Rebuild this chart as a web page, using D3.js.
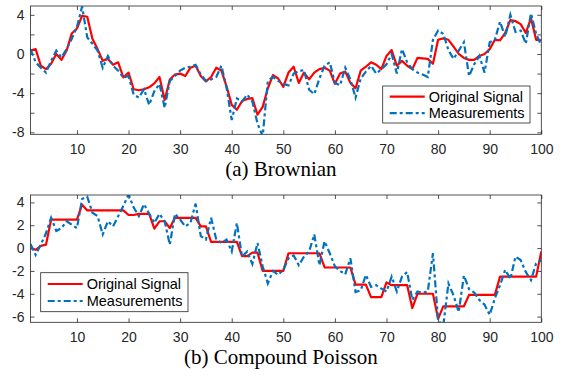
<!DOCTYPE html>
<html><head><meta charset="utf-8">
<script src="https://cdn.jsdelivr.net/npm/d3@7"></script>
<style>
body{margin:0;background:#fff;}
svg{display:block;}
.tick text{font-family:"Liberation Sans",Arial,Helvetica,sans-serif;font-size:14px;fill:#262626;}
</style></head>
<body>
<svg id="chart" width="569" height="382"></svg>
<script>
const xIndex = d3.range(1, 101);
const xTicks = [10,20,30,40,50,60,70,80,90,100];

const brownianOriginal = [0.35,0.5,-1.2,-1.55,-1.0,0.0,-0.6,0.35,2.1,2.6,
3.9,3.8,1.55,0.5,-0.7,-0.5,-1.1,-0.85,-2.4,-1.9,
-3.6,-3.7,-3.6,-3.4,-3.0,-2.35,-4.7,-2.6,-2.1,-2.0,
-2.25,-1.4,-1.2,-2.25,-2.8,-2.35,-1.4,-1.7,-3.3,-5.2,
-5.7,-4.8,-4.6,-4.5,-6.2,-5.4,-3.5,-2.15,-2.5,-3.35,
-1.9,-1.3,-2.95,-1.9,-2.6,-1.9,-1.55,-1.4,-1.7,-3.05,
-2.0,-1.8,-2.95,-3.5,-1.7,-1.3,-0.85,-1.1,-1.55,-0.2,
0.4,-1.2,-0.7,-1.2,-1.55,-0.4,-0.45,-0.5,-1.0,1.45,
1.6,1.45,0.75,0.0,-0.4,-0.6,-0.6,-0.2,0.0,0.5,
1.45,1.4,2.15,3.45,3.35,3.05,2.15,3.65,1.45,1.4];

const brownianMeasured = [0.5,-0.85,-1.4,-1.9,-0.7,0.35,-0.35,0.5,1.55,2.75,
4.85,1.7,1.05,0.35,-1.4,-0.2,-1.2,-1.7,-2.4,-2.25,
-4.15,-4.45,-3.6,-5.2,-3.8,-3.05,-5.5,-2.75,-2.25,-1.7,
-1.4,-1.3,-1.1,-2.1,-2.75,-2.6,-2.35,-1.2,-3.45,-6.75,
-4.55,-4.85,-4.15,-4.85,-7.1,-8.4,-2.75,-2.35,-2.75,-3.05,
-3.2,-2.0,-1.75,-1.65,-3.65,-4.1,-2.5,-1.2,-0.85,-2.95,
-3.2,-1.4,-2.6,-4.45,-2.5,-1.8,-1.2,-2.0,-1.55,-1.05,
0.0,-2.0,0.5,-0.85,-1.55,-1.9,-2.1,-2.35,1.45,2.4,
2.05,0.4,-0.5,0.35,1.2,-2.25,-1.05,-0.2,-1.9,1.2,
1.45,3.3,1.75,4.0,2.25,2.4,1.05,4.15,2.05,0.85];

const poissonOriginal = [0.0,-0.15,0.2,0.3,2.5,2.5,2.5,2.5,2.5,2.5,
3.8,3.3,3.3,3.3,3.3,3.3,3.3,3.3,3.3,2.9,
2.9,3.0,3.0,3.0,1.7,2.35,2.35,1.75,2.65,2.65,
2.65,2.65,2.65,1.9,1.9,0.55,0.55,0.55,0.55,0.55,
0.55,-0.7,-0.7,-0.4,-0.4,-2.0,-2.0,-2.0,-2.0,-2.0,
-0.45,-0.45,-0.45,-0.45,-0.45,-0.45,-0.45,-1.7,-1.7,-1.7,
-1.7,-1.7,-1.7,-3.2,-3.2,-3.2,-4.3,-4.3,-4.3,-3.0,
-3.25,-3.25,-3.25,-3.25,-5.25,-4.0,-4.0,-4.0,-4.0,-6.2,
-5.1,-5.1,-5.1,-5.1,-5.1,-4.1,-4.1,-4.1,-4.1,-4.1,
-4.1,-2.5,-2.5,-2.5,-2.5,-2.5,-2.5,-2.5,-2.5,-0.3];

const poissonMeasured = [0.35,-0.6,0.3,1.3,2.65,1.5,1.75,2.35,2.05,1.75,
4.3,4.5,3.1,2.8,1.2,2.35,1.9,2.8,3.7,4.7,
3.55,2.8,3.85,3.0,2.2,3.0,2.35,0.3,3.0,2.5,
1.9,2.2,3.9,1.05,0.75,2.65,0.75,0.45,0.75,-0.3,
2.2,-0.75,-0.3,-1.4,0.45,-1.6,-3.1,-2.0,-2.35,-1.9,
-0.9,-0.65,-1.5,-0.75,-0.3,1.2,-1.5,0.6,-0.45,-1.6,
-2.0,-2.3,-0.9,-3.85,-3.7,-2.35,-3.4,-3.25,-3.55,-3.8,
-2.5,-3.8,-2.5,-2.1,-4.55,-3.8,-3.9,-3.8,-0.45,-6.35,
-6.8,-3.1,-4.15,-5.6,-2.4,-3.6,-3.9,-4.55,-4.95,-5.85,
-4.4,-3.25,-1.9,-2.7,-0.75,-1.05,-2.1,-2.8,-1.35,-1.05];

const brownianYTicks = [-8,-6,-4,-2,0,2,4];
const brownianYLabels = [-8,-4,0,4];
const poissonYTicks = [-6,-4,-2,0,2,4];
const seriesNames = ["Original Signal","Measurements"];
const captions = ["(a) Brownian","(b) Compound Poisson"];

const AX = "#262626";
const RED = "#ff0000";
const BLUE = "#0072bd";
const svg = d3.select("#chart");

function panel(cfg){
  const {left,right,top,bottom,yDomain,yTicks,yLabels,orig,meas,legend,caption,captionY,id} = cfg;
  const x = d3.scaleLinear().domain([1,100]).range([left,right]);
  const y = d3.scaleLinear().domain(yDomain).range([bottom,top]);
  const g = svg.append("g");
  g.append("rect").attr("x",left).attr("y",top).attr("width",right-left).attr("height",bottom-top).attr("fill","#fff");
  svg.append("clipPath").attr("id",id).append("rect").attr("x",left).attr("y",top).attr("width",right-left).attr("height",bottom-top);

  const fmt = v => yLabels.includes(v) ? String(v) : "";
  const ax = [
    g.append("g").attr("transform",`translate(0,${bottom})`).call(d3.axisBottom(x).tickValues(xTicks).tickSize(-4).tickSizeOuter(0).tickPadding(10)),
    g.append("g").attr("transform",`translate(0,${top})`).call(d3.axisTop(x).tickValues(xTicks).tickSize(-4).tickSizeOuter(0).tickFormat("")),
    g.append("g").attr("transform",`translate(${left},0)`).call(d3.axisLeft(y).tickValues(yTicks).tickSize(-4).tickSizeOuter(0).tickPadding(6).tickFormat(fmt)),
    g.append("g").attr("transform",`translate(${right},0)`).call(d3.axisRight(y).tickValues(yTicks).tickSize(-4).tickSizeOuter(0).tickFormat(""))
  ];
  ax.forEach(a=>{a.select(".domain").remove(); a.selectAll("line").attr("stroke",AX).attr("stroke-width",0.8);});

  const line = d3.line().x((d,i)=>x(xIndex[i])).y(d=>y(d));
  const lg = g.append("g").attr("clip-path",`url(#${id})`);
  lg.append("path").datum(orig).attr("d",line).attr("fill","none").attr("stroke",RED).attr("stroke-width",2.2).attr("stroke-linejoin","round");
  lg.append("path").datum(meas).attr("d",line).attr("fill","none").attr("stroke",BLUE).attr("stroke-width",2.2).attr("stroke-dasharray","7,3,3,3");

  g.append("rect").attr("x",left).attr("y",top).attr("width",right-left).attr("height",bottom-top)
    .attr("fill","none").attr("stroke",AX).attr("stroke-width",0.8);

  const L = legend;
  const leg = g.append("g");
  leg.append("rect").attr("x",L.x).attr("y",L.y).attr("width",L.w).attr("height",L.h).attr("fill","#fff").attr("stroke",AX).attr("stroke-width",0.8);
  const rows = [{c:RED,dash:null},{c:BLUE,dash:"7,3,3,3"}];
  rows.forEach((r,i)=>{
    const yy = L.y + L.row0 + i*L.dy;
    leg.append("line").attr("x1",L.x+7).attr("x2",L.x+42).attr("y1",yy).attr("y2",yy)
      .attr("stroke",r.c).attr("stroke-width",2.2).attr("stroke-dasharray",r.dash);
    leg.append("text").attr("x",L.x+46).attr("y",yy+5).text(seriesNames[i])
      .attr("font-family","Liberation Sans, Arial, sans-serif").attr("font-size",14.5).attr("fill","#000");
  });

  svg.append("text").attr("x",(left+right)/2-5).attr("y",captionY).attr("text-anchor","middle")
    .attr("font-family","Liberation Serif, Times New Roman, serif").attr("font-size",21).attr("fill","#000").text(caption);
}

panel({id:"c1",left:30.5,right:541.3,top:6,bottom:134.3,yDomain:[-8.2,4.9],yTicks:brownianYTicks,yLabels:brownianYLabels,
  orig:brownianOriginal,meas:brownianMeasured,legend:{x:382.7,y:86,w:147.3,h:37,row0:10.7,dy:16.5},caption:captions[0],captionY:176});
panel({id:"c2",left:30.5,right:541.3,top:195,bottom:322.3,yDomain:[-6.5,4.65],yTicks:poissonYTicks,yLabels:poissonYTicks,
  orig:poissonOriginal,meas:poissonMeasured,legend:{x:40.7,y:272.7,w:147.3,h:39,row0:11.3,dy:17},caption:captions[1],captionY:364});
</script>
</body></html>
